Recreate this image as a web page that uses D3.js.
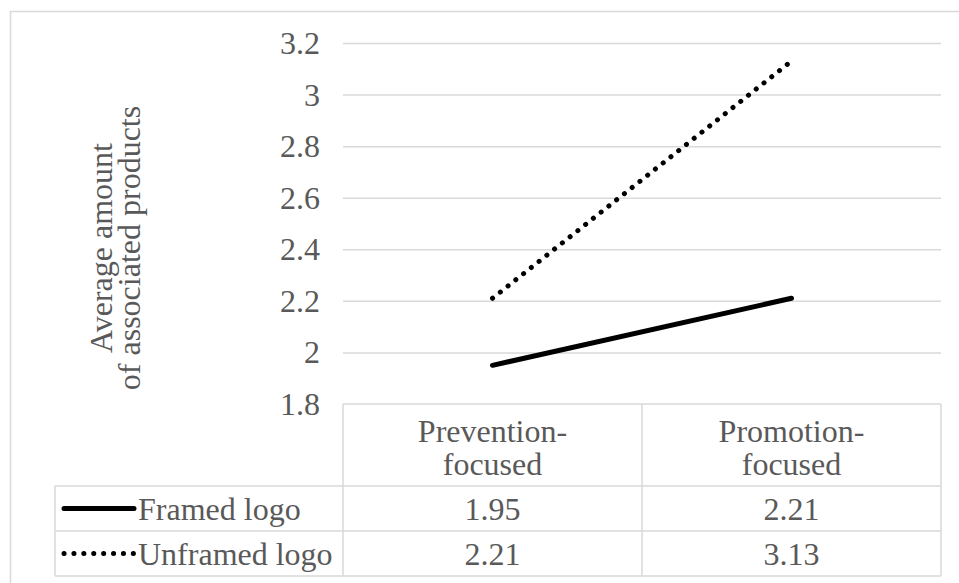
<!DOCTYPE html>
<html><head><meta charset="utf-8">
<script src="https://cdn.jsdelivr.net/npm/d3@7"></script>
<style>
body{margin:0;background:#fff;overflow:hidden}
#wrap{position:relative;width:959px;height:583px;overflow:hidden}
#wrap svg{position:absolute;left:0;top:0}
.lbl{position:absolute;white-space:nowrap;font-size:32px;line-height:normal;color:#595959}
</style>
</head><body><div id="wrap"><svg id="c" width="959" height="583"></svg></div>
<script>
const categories = ["Prevention-focused", "Promotion-focused"];
const categoryLines = [["Prevention-", "focused"], ["Promotion-", "focused"]];
const seriesNames = ["Framed logo", "Unframed logo"];
const framed = [1.95, 2.21];
const unframed = [2.21, 3.13];
const yTicks = [1.8, 2, 2.2, 2.4, 2.6, 2.8, 3, 3.2];
const yTitle = ["Average amount", "of associated products"];

const wrap = d3.select("#wrap");
const svg = d3.select("#c");
const gridColor = "#d9d9d9";
const serifFace = "Liberation Serif";

const pLeft = 343, pRight = 941, pTop = 43, pBottom = 404;
const x = d3.scaleBand().domain(categories).range([pLeft, pRight]);
const y = d3.scaleLinear().domain([1.8, 3.2]).range([pBottom, pTop]);
const cx = c => x(c) + x.bandwidth() / 2;

function label(px, py, text, anchor, rotate) {
  const tx = anchor === "middle" ? "-50%" : anchor === "end" ? "-100%" : "0";
  wrap.append("div").attr("class", "lbl")
    .style("font-family", serifFace, "important")
    .style("left", px + "px").style("top", py + "px")
    .style("transform", `translate(${tx},-50%)` + (rotate ? ` rotate(${rotate}deg)` : ""))
    .text(text);
}

// outer border
svg.append("rect").attr("x", 10.5).attr("y", 11.5).attr("width", 1000).attr("height", 1000)
  .attr("fill", "none").attr("stroke", gridColor).attr("stroke-width", 1.5);

// grid via axis
const yAxis = d3.axisLeft(y).tickValues(yTicks).tickSize(-(pRight - pLeft)).tickFormat("");
const ga = svg.append("g").attr("transform", `translate(${pLeft},0)`).call(yAxis);
ga.select(".domain").remove();
ga.selectAll(".tick text").remove();
ga.selectAll(".tick line").attr("stroke", gridColor).attr("stroke-width", 1.5)
  .filter(d => d === 1.8).remove();
// tick labels
yTicks.forEach(t => label(320, y(t), String(+t.toFixed(1)), "end"));

// y title (rotated)
yTitle.forEach((t, i) => label(101 + i * 28, 248, t, "middle", -90));

// table
const rowH = [82, 45, 45];
const rowY = [pBottom];
rowH.forEach((h, i) => rowY.push(rowY[i] + h));
const tl = 55;
const tb = svg.append("g").attr("stroke", gridColor).attr("stroke-width", 1.5);
tb.append("line").attr("x1", pLeft).attr("x2", pRight).attr("y1", rowY[0]).attr("y2", rowY[0]);
[1, 2, 3].forEach(r => tb.append("line").attr("x1", tl).attr("x2", pRight).attr("y1", rowY[r]).attr("y2", rowY[r]));
tb.append("line").attr("x1", tl).attr("x2", tl).attr("y1", rowY[1]).attr("y2", rowY[3]);
[pLeft, pLeft + x.bandwidth(), pRight].forEach(vx => {
  tb.append("line").attr("x1", vx).attr("x2", vx).attr("y1", rowY[0]).attr("y2", rowY[3]);
});

// header text
categories.forEach((c, i) => {
  categoryLines[i].forEach((ln, j) => label(cx(c), rowY[0] + 27 + j * 33, ln, "middle"));
});

const series = [
  {name: seriesNames[0], values: framed, dash: null},
  {name: seriesNames[1], values: unframed, dash: "0.1 9.8"}
];

series.forEach((s, i) => {
  const cy = (rowY[i + 1] + rowY[i + 2]) / 2;
  svg.append("line").attr("x1", 64).attr("x2", 134).attr("y1", cy).attr("y2", cy)
    .attr("stroke", "#000").attr("stroke-width", 5).attr("stroke-linecap", "round")
    .attr("stroke-dasharray", s.dash);
  label(138, cy, s.name, "start");
  s.values.forEach((v, k) => label(cx(categories[k]), cy, d3.format(".2f")(v), "middle"));
});

// lines
const line = d3.line().x((d, k) => cx(categories[k])).y(d => y(d));
series.forEach(s => {
  svg.append("path").datum(s.values).attr("d", line).attr("fill", "none")
    .attr("stroke", "#000").attr("stroke-width", 5).attr("stroke-linecap", "round")
    .attr("stroke-dasharray", s.dash);
});
</script></body></html>
